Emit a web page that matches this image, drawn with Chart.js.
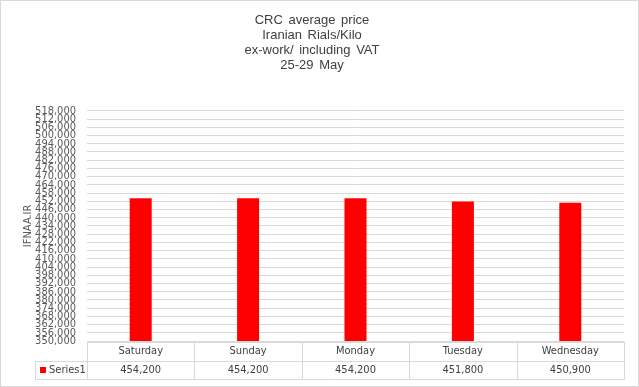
<!DOCTYPE html>
<html>
<head>
<meta charset="utf-8">
<script src="https://cdn.jsdelivr.net/npm/chart.js@4"></script>
<style>
  html, body { margin: 0; padding: 0; background: #fff; }
  #wrap { width: 639px; height: 387px; }
</style>
</head>
<body>
<div id="wrap"><canvas id="priceChart"></canvas></div>
<script>
const days = ["Saturday", "Sunday", "Monday", "Tuesday", "Wednesday"];
const prices = [454200, 454200, 454200, 451800, 450900];
const seriesName = "Series1";
const titleLines = ["CRC average price", "Iranian Rials/Kilo", "ex-work/ including VAT", "25-29 May"];
const yMin = 350000;
const yMax = 518000;
const yStep = 6000;

const fmt = (v) => v.toLocaleString("en-US");

// Excel spaces title words a bit wider
const wideWords = {
  id: "wideWords",
  beforeDraw(chart) { chart.ctx.wordSpacing = "2px"; },
  afterDraw(chart) { chart.ctx.wordSpacing = "0px"; }
};

// ----- Data table under the plot + outer border -----
const dataTable = {
  id: "dataTable",
  afterDraw(chart) {
    const { ctx, chartArea } = chart;
    const x = chart.scales.x;
    const top = chartArea.bottom + 1;
    const mid = top + 18.5;
    const bottom = mid + 18.5;
    const colW = (chartArea.right - chartArea.left) / days.length;

    ctx.save();
    ctx.strokeStyle = "#d9d9d9";
    ctx.lineWidth = 1;
    ctx.beginPath();
    // horizontal lines
    ctx.moveTo(chartArea.left, Math.round(top) + 0.5);
    ctx.lineTo(chartArea.right, Math.round(top) + 0.5);
    ctx.moveTo(35, Math.round(mid) + 0.5);
    ctx.lineTo(chartArea.right, Math.round(mid) + 0.5);
    ctx.moveTo(35, Math.round(bottom) + 0.5);
    ctx.lineTo(chartArea.right, Math.round(bottom) + 0.5);
    // vertical lines
    for (let i = 0; i <= days.length; i++) {
      const lx = Math.round(chartArea.left + i * colW) + 0.5;
      ctx.moveTo(lx, Math.round(top));
      ctx.lineTo(lx, Math.round(bottom) + 1);
    }
    ctx.moveTo(35.5, Math.round(mid));
    ctx.lineTo(35.5, Math.round(bottom) + 1);
    ctx.stroke();

    // outer chart border
    ctx.strokeRect(0.5, 0.5, chart.width - 1, chart.height - 1);

    ctx.fillStyle = "#404040";
    ctx.font = "11px 'DejaVu Sans Condensed', 'DejaVu Sans', sans-serif";
    ctx.textAlign = "center";
    ctx.textBaseline = "middle";
    days.forEach((d, i) => {
      const cx = x.getPixelForValue(i);
      ctx.fillText(d, cx, (top + mid) / 2);
      ctx.fillText(fmt(prices[i]), cx, (mid + bottom) / 2);
    });

    // legend key in first column
    ctx.fillStyle = "#ff0000";
    ctx.fillRect(40, Math.round((mid + bottom) / 2) - 3, 6, 6);
    ctx.fillStyle = "#404040";
    ctx.textAlign = "left";
    ctx.fillText(seriesName, 49, (mid + bottom) / 2);
    ctx.restore();
  }
};

new Chart(document.getElementById("priceChart"), {
  type: "bar",
  data: {
    labels: days,
    datasets: [{
      label: seriesName,
      data: prices,
      backgroundColor: "#ff0000",
      categoryPercentage: 1,
      barPercentage: 0.205
    }]
  },
  options: {
    responsive: true,
    maintainAspectRatio: false,
    animation: false,
    layout: { padding: { left: 0, right: 15, bottom: 46, top: 0 } },
    plugins: {
      legend: { display: false },
      tooltip: { enabled: false },
      title: {
        display: true,
        text: titleLines,
        color: "#404040",
        font: { family: "'Liberation Sans', Arial, sans-serif", size: 13, weight: "normal", lineHeight: 1.15 },
        padding: { top: 13, bottom: 38 }
      }
    },
    scales: {
      x: {
        display: false
      },
      y: {
        min: yMin,
        max: yMax,
        afterFit(scale) { scale.width = 87; },
        border: { display: false },
        grid: { color: "#d9d9d9", drawTicks: false },
        ticks: {
          stepSize: yStep,
          autoSkip: false,
          padding: 11,
          color: "#595959",
          font: { family: "'DejaVu Sans Condensed', 'DejaVu Sans', sans-serif", size: 11 },
          callback: (v) => fmt(v)
        },
        title: {
          display: true,
          text: "IFNAA.IR",
          color: "#595959",
          font: { family: "'DejaVu Sans Condensed', 'DejaVu Sans', sans-serif", size: 11 },
          padding: { top: 22, bottom: 0 }
        }
      }
    }
  },
  plugins: [wideWords, dataTable]
});
</script>
</body>
</html>
